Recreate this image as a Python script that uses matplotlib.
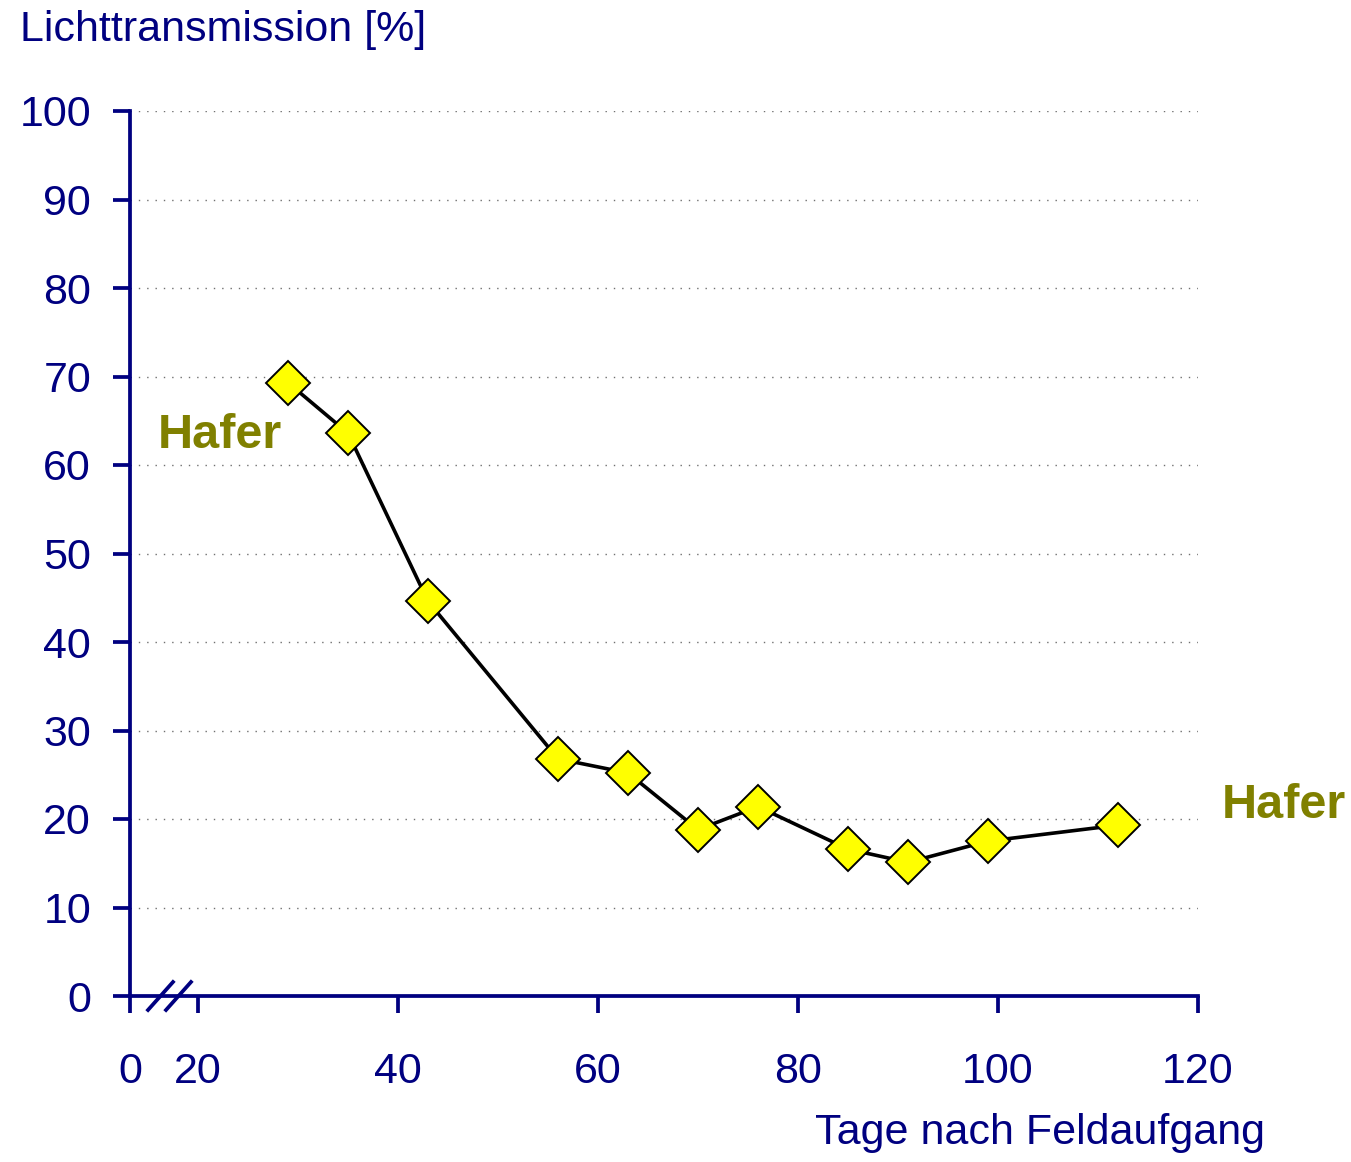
import matplotlib
matplotlib.use('Agg')
import matplotlib.pyplot as plt
from matplotlib.lines import Line2D

plt.rcParams['font.family'] = ['Liberation Sans', 'DejaVu Sans']

# data
tage = [29, 35, 43, 56, 63, 70, 76, 85, 91, 99, 112]
transmission = [69.3, 63.6, 44.6, 26.8, 25.2, 18.8, 21.4, 16.6, 15.1, 17.5, 19.3]

y_ticks = [0, 10, 20, 30, 40, 50, 60, 70, 80, 90, 100]
x_ticks = [20, 40, 60, 80, 100, 120]
x_zero_pos = 13.2   # where the "0" sits after the axis break

navy = '#000080'
olive = '#808000'

fig = plt.figure(figsize=(13.51, 11.62), dpi=100)
ax = fig.add_axes([130 / 1351, 1 - 996 / 1162, (1198 - 130) / 1351, (996 - 111) / 1162])

ax.set_xlim(x_zero_pos, 120)
ax.set_ylim(0, 100)

# dotted grid
for yv in y_ticks[1:]:
    ax.axhline(yv, color='#707070', linestyle=(0, (1, 5)), linewidth=1.0, zorder=1)

ax.plot(tage, transmission, color='black', linewidth=2.6, marker='D', markersize=22,
        markerfacecolor='#ffff00', markeredgecolor='black', markeredgewidth=1.4, zorder=3,
        clip_on=False)

for side in ['top', 'right']:
    ax.spines[side].set_visible(False)
for side in ['left', 'bottom']:
    ax.spines[side].set_color(navy)
    ax.spines[side].set_linewidth(2.7)

ax.set_yticks(y_ticks)
ax.set_yticklabels([str(v) for v in y_ticks])
ax.set_xticks([x_zero_pos] + x_ticks)
ax.set_xticklabels(['0'] + [str(v) for v in x_ticks])
ax.tick_params(axis='both', colors=navy, labelcolor=navy, labelsize=31,
               length=12, width=2.7, direction='out')
ax.tick_params(axis='x', pad=28)
ax.tick_params(axis='y', pad=16)

# axis break marks
for x0 in [148, 166]:
    fig.add_artist(Line2D([x0 / 1351, (x0 + 25) / 1351],
                          [1 - 1010 / 1162, 1 - 982 / 1162],
                          color=navy, linewidth=2.7))

fig.text(20 / 1351, 1 - 30 / 1162, 'Lichttransmission [%]', color=navy,
         fontsize=31, ha='left', va='center')
fig.text(1265 / 1351, 1 - 1133 / 1162, 'Tage nach Feldaufgang', color=navy,
         fontsize=31, ha='right', va='center')

fig.text(158 / 1351, 1 - 435 / 1162, 'Hafer', color=olive, fontsize=35,
         fontweight='bold', ha='left', va='center')
fig.text(1222 / 1351, 1 - 806 / 1162, 'Hafer', color=olive, fontsize=35,
         fontweight='bold', ha='left', va='center')

fig.savefig('out.png', dpi=100, facecolor='white')
